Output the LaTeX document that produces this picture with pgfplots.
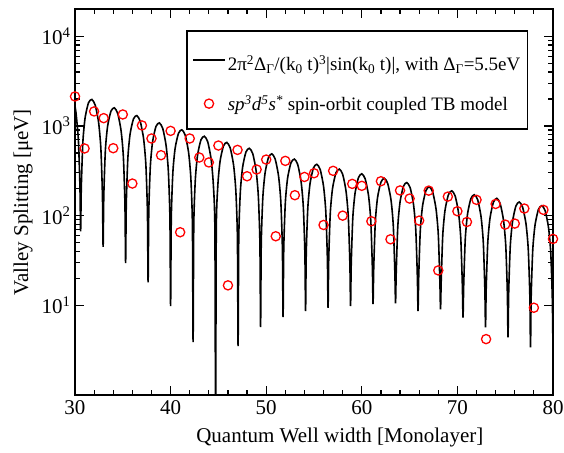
\documentclass[border=0pt]{standalone}
\usepackage{fontspec}
\setmainfont{Liberation Serif}
\usepackage{pgfplots}
\pgfplotsset{compat=1.18}

% TB model points
\newcommand{\tbdata}{
(30,2133) (31,561) (32,1452) (33,1222) (34,565) (35,1343) (36,228) (37,1014)
(38,725) (39,472) (40,881) (41,65.3) (42,725) (43,445) (44,392) (45,605)
(46,16.7) (47,541) (48,275) (49,327) (50,422) (51,58.9) (52,408) (53,169)
(54,270) (55,297) (56,78.7) (57,316) (58,100) (59,226) (60,215) (61,86.6)
(62,242) (63,54.5) (64,191) (65,155) (66,88) (67,190) (68,24.5) (69,163)
(70,112) (71,85) (72,150) (73,4.2) (74,135) (75,79.5) (76,81.6) (77,120)
(78,9.4) (79,116) (80,55)
}

\begin{document}
\begin{tikzpicture}[font=\fontsize{21}{24}\selectfont]
\begin{axis}[
    name=ax,
    at={(0,0)}, anchor=south west,
    scale only axis,
    width=478pt, height=385.7pt,
    ymode=log,
    xmin=30, xmax=80,
    ymin=1, ymax=2e4,
    xtick={30,40,50,60,70,80},
    minor x tick num=4,
    ytick={10,100,1000,10000},
    yticklabels={10\textsuperscript{1},10\textsuperscript{2},10\textsuperscript{3},10\textsuperscript{4}},
    /pgf/number format/assume math mode=true,
    tick align=inside,
    major tick length=9pt,
    minor tick length=5pt,
    every tick/.style={black, line width=1.2pt},
    axis line style={line width=1.8pt},
    xlabel={Quantum Well width [Monolayer]},
    ylabel={Valley Splitting [μeV]},
    xlabel style={at={(axis description cs:0.554,0)}, anchor=north, yshift=-29pt},
    ylabel style={yshift=2pt},
    xticklabel style={yshift=-2pt},
    yticklabel style={xshift=-1pt},
    legend style={
        at={(axis description cs:0.948,0.946)}, anchor=north east,
        draw=black, line width=1.5pt,
        inner xsep=5pt, inner ysep=15pt,
        row sep=19pt,
        font=\fontsize{19}{22}\selectfont,
        cells={anchor=west},
    },
]
\addplot[black, line width=1.6pt, smooth, tension=0.4,
    legend image code/.code={\draw[black, line width=1.6pt] (0pt,0pt) -- (32pt,0pt);}]
coordinates {
(30,1658) (30.117,1362) (30.353,700) (30.517,210) (30.588,67)
(30.659,205) (30.823,663) (31.059,1235) (31.412,1816) (31.764,1975) (32.117,1705) (32.470,1091) (32.706,562) (32.870,169) (32.941,45)
(33.012,165) (33.176,535) (33.412,997) (33.765,1466) (34.117,1594) (34.470,1376) (34.823,881) (35.059,454) (35.223,136) (35.294,29.5)
(35.365,135) (35.529,438) (35.765,816) (36.118,1200) (36.470,1305) (36.823,1127) (37.176,721) (37.412,371) (37.576,111) (37.647,18)
(37.718,110) (37.882,357) (38.118,669) (38.471,988) (38.823,1082) (39.176,940) (39.529,605) (39.765,313) (39.929,94) (40.000,9.8)
(40.071,92.3) (40.235,300) (40.471,561) (40.824,828) (41.176,907) (41.529,788) (41.882,507) (42.118,262) (42.282,78.8) (42.353,3.9)
(42.424,78.1) (42.588,254) (42.824,475) (43.177,701) (43.529,768) (43.882,667) (44.235,429) (44.471,222) (44.635,66.7) (44.706,0.3)
(44.777,66.7) (44.941,217) (45.177,405) (45.530,599) (45.882,655) (46.235,569) (46.588,366) (46.824,189) (46.988,57) (47.059,3.5)
(47.130,56.5) (47.294,184) (47.530,345) (47.883,513) (48.235,564) (48.588,493) (48.941,319) (49.177,165) (49.341,49.9) (49.412,5.7)
(49.483,49) (49.647,159) (49.883,299) (50.236,444) (50.588,489) (50.941,427) (51.294,276) (51.530,143) (51.694,43.2) (51.765,7.4)
(51.836,42.7) (52.000,139) (52.236,261) (52.589,388) (52.941,427) (53.294,373) (53.647,241) (53.883,125) (54.047,37.7) (54.118,8.6)
(54.189,37.5) (54.353,122) (54.589,229) (54.942,340) (55.294,374) (55.647,327) (56.000,212) (56.236,110) (56.400,33.1) (56.471,9.4)
(56.542,33.1) (56.706,108) (56.942,202) (57.295,300) (57.647,330) (58.000,289) (58.353,187) (58.589,96.8) (58.753,29.2) (58.824,9.8)
(58.895,29) (59.059,94.6) (59.295,178) (59.648,265) (60.000,293) (60.353,257) (60.706,167) (60.942,86.8) (61.106,26.2) (61.176,10.3)
(61.247,25.8) (61.411,84.2) (61.647,159) (62.000,236) (62.352,261) (62.705,229) (63.058,149) (63.294,77.3) (63.458,23.3) (63.529,10.5)
(63.600,23.1) (63.764,75.4) (64.000,142) (64.353,212) (64.705,234) (65.058,205) (65.411,133) (65.647,69.1) (65.811,20.9) (65.882,8.6)
(65.953,20.8) (66.117,67.7) (66.353,128) (66.706,190) (67.058,210) (67.411,184) (67.764,119) (68.000,62.1) (68.164,18.8) (68.235,9.0)
(68.306,18.7) (68.470,61.1) (68.706,115) (69.059,171) (69.411,189) (69.764,166) (70.117,108) (70.353,56) (70.517,16.9) (70.588,7.3)
(70.659,16.8) (70.823,54.9) (71.059,104) (71.412,155) (71.764,171) (72.117,151) (72.470,97.9) (72.706,51) (72.870,15.4) (72.941,5.7)
(73.012,15.3) (73.176,49.9) (73.412,94) (73.765,141) (74.117,156) (74.470,137) (74.823,88.8) (75.059,46.3) (75.223,14) (75.294,4.4)
(75.365,13.9) (75.529,45.4) (75.765,85.6) (76.118,128) (76.470,142) (76.823,124) (77.176,80.9) (77.412,42.1) (77.576,12.8) (77.647,3.4)
(77.718,12.7) (77.882,41.5) (78.118,78.2) (78.471,117) (78.823,129) (79.176,114) (79.529,73.9) (79.765,38.5) (79.929,11.7) (80,3)
};
\addlegendentry{\rule{0pt}{23pt}2π\textsuperscript{2}Δ\textsubscript{Γ}/(k\textsubscript{0} t)\textsuperscript{3}|sin(k\textsubscript{0} t)|, with Δ\textsubscript{Γ}=5.5eV}

\addplot[only marks, mark=o, mark size=4.6pt, red, mark options={line width=1.3pt},
    legend image code/.code={\draw[red, line width=1.3pt] (16pt,0pt) circle[radius=4.6pt];}]
coordinates {\tbdata};
\addlegendentry{\textit{sp\textsuperscript{3}d\textsuperscript{5}s\textsuperscript{*}} spin-orbit coupled TB model}
\end{axis}
\pgfresetboundingbox
\path[use as bounding box] (-75pt,-57pt) rectangle (489pt,395pt);
\end{tikzpicture}
\end{document}
